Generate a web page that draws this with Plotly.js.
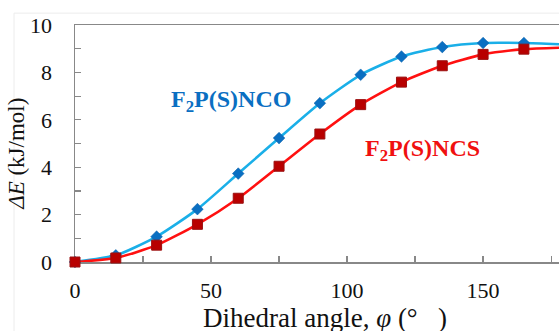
<!DOCTYPE html>
<html>
<head>
<meta charset="utf-8">
<script src="https://cdn.plot.ly/plotly-3.0.1.min.js"></script>
<style>html,body{margin:0;padding:0;background:#fff}#chart{width:559px;height:331px}</style>
</head>
<body>
<div id="chart"></div>
<script>
// Dihedral angle (degrees)
const phi = [0, 15, 30, 45, 60, 75, 90, 105, 120, 135, 150, 165, 180];
// Relative energy ΔE (kJ/mol)
const dE_NCO = [0, 0.28, 1.07, 2.23, 3.73, 5.23, 6.70, 7.90, 8.67, 9.07, 9.24, 9.24, 9.18];
const dE_NCS = [0, 0.17, 0.71, 1.59, 2.69, 4.04, 5.40, 6.64, 7.59, 8.28, 8.76, 8.98, 9.05];

const xTickVals = [0, 25, 50, 75, 100, 125, 150, 175];
const xTickText = ['0', '', '50', '', '100', '', '150', ''];
const yTickVals = [0, 1, 2, 3, 4, 5, 6, 7, 8, 9, 10];
const yTickText = ['0', '', '2', '', '4', '', '6', '', '8', '', '10'];

const serif = 'Liberation Serif, Times New Roman, serif';

const traces = [
  {
    x: phi, y: dE_NCO, type: 'scatter', mode: 'lines+markers', name: 'F2P(S)NCO',
    line: {color: '#1AAFE8', width: 2.6, shape: 'spline', smoothing: 0.6},
    marker: {symbol: 'diamond', size: 9, color: '#0A6FC2', line: {width: 0.5, color: '#0A5FA8'}},
    cliponaxis: false
  },
  {
    x: phi, y: dE_NCS, type: 'scatter', mode: 'lines+markers', name: 'F2P(S)NCS',
    line: {color: '#FF1010', width: 2.6, shape: 'spline', smoothing: 0.6},
    marker: {symbol: 'square', size: 10, color: '#B80000', line: {width: 1, color: '#9A1010'}},
    cliponaxis: false
  }
];

const layout = {
  width: 559, height: 331,
  margin: {l: 75, r: 0, t: 25, b: 69},
  paper_bgcolor: '#fff', plot_bgcolor: '#fff',
  showlegend: false,
  font: {family: serif, color: '#111', size: 22},
  xaxis: {
    range: [0, 177.9], tickmode: 'array', tickvals: xTickVals, ticktext: xTickText,
    ticks: 'inside', ticklen: 6, tickwidth: 1.2, tickcolor: '#888',
    showline: true, linecolor: '#888', linewidth: 1.5, mirror: true,
    showgrid: false, zeroline: false, layer: 'below traces',
    tickfont: {family: serif, size: 22, color: '#111'}, ticklabelstandoff: 8
  },
  yaxis: {
    range: [0, 10], tickmode: 'array', tickvals: yTickVals, ticktext: yTickText,
    ticks: 'inside', ticklen: 6, tickwidth: 1.2, tickcolor: '#888',
    showline: true, linecolor: '#888', linewidth: 1.5,
    showgrid: false, zeroline: false, layer: 'below traces',
    tickfont: {family: serif, size: 22, color: '#111'}, ticklabelstandoff: 17
  },
  shapes: [
    {type: 'rect', xref: 'paper', yref: 'paper', x0: -0.126, x1: 1.02, y0: -0.3, y1: 1.05,
     line: {color: '#ececec', width: 1}, layer: 'below'}
  ],
  annotations: [
    {xref: 'paper', yref: 'paper', x: 0.517, y: -0.236, xanchor: 'center', yanchor: 'middle',
     showarrow: false, text: 'Dihedral angle, <i>φ</i> (°\u00a0\u00a0\u00a0)',
     font: {family: serif, size: 27, color: '#111'}},
     {xref: 'paper', yref: 'paper', x: -0.12, y: 0.456, xanchor: 'center', yanchor: 'middle',
     textangle: -90, showarrow: false, text: '<i>ΔE</i> (kJ/mol)',
     font: {family: serif, size: 23, color: '#111'}},
    {xref: 'x', yref: 'y', x: 57.5, y: 6.8, xanchor: 'center', yanchor: 'middle', showarrow: false,
     text: '<b>F<sub>2</sub>P(S)NCO</b>', font: {family: serif, size: 24, color: '#0A6FC2'}},
    {xref: 'x', yref: 'y', x: 127.6, y: 4.72, xanchor: 'center', yanchor: 'middle', showarrow: false,
     text: '<b>F<sub>2</sub>P(S)NCS</b>', font: {family: serif, size: 24, color: '#F01010'}}
  ]
};

Plotly.newPlot('chart', traces, layout, {displayModeBar: false, staticPlot: true});
</script>
</body>
</html>
